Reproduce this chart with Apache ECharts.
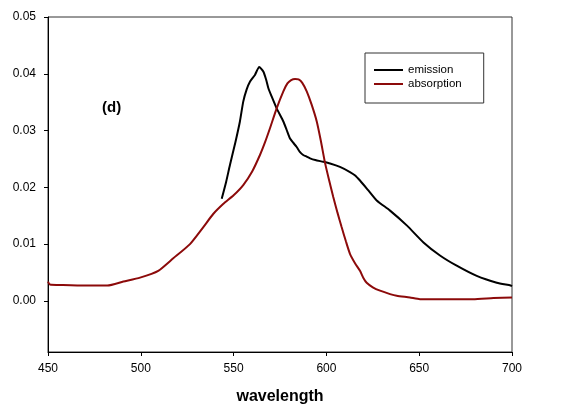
<!DOCTYPE html>
<html>
<head>
<meta charset="utf-8">
<script src="https://cdn.jsdelivr.net/npm/echarts@6/dist/echarts.min.js"></script>
<style>
  html, body { margin: 0; padding: 0; background: #fff; }
  #main { width: 579px; height: 415px; }
</style>
</head>
<body>
<div id="main"></div>
<script>
// wavelength (nm) and intensity
const emissionX = [543.6, 546, 548, 551, 553.4, 555.2, 557, 558.8, 561.5, 563.8, 566, 567.5, 568.7, 570.5, 573.2, 576.8, 578.6, 580.4, 582, 584, 585.8, 587.5, 589.4, 591.2, 594, 598.3, 602, 607.3, 612.7, 615.5, 618.1, 622.5, 627.1, 634.3, 643.3, 652.3, 661.2, 670.2, 681, 691.8, 699.3, 700]
const emissionY = [0.0180, 0.0210, 0.0239, 0.0280, 0.0316, 0.0351, 0.0372, 0.0386, 0.0398, 0.0412, 0.0404, 0.0390, 0.0375, 0.0360, 0.0339, 0.0316, 0.0301, 0.0286, 0.0279, 0.0271, 0.0262, 0.0257, 0.0254, 0.0251, 0.0248, 0.0245, 0.0242, 0.0236, 0.0227, 0.0221, 0.0212, 0.0195, 0.0177, 0.0159, 0.0133, 0.0103, 0.0080, 0.0062, 0.0044, 0.0032, 0.0027, 0.0026]

const absorptionX = [450, 451, 458, 470, 482, 490.6, 499.6, 509.4, 517.5, 526.5, 533.7, 539, 544.5, 550, 555.2, 560, 564.2, 567, 569.6, 573.2, 576.8, 579, 581, 583.1, 585, 587, 589.4, 592, 594.8, 597, 599.2, 601.5, 603.7, 606, 608.2, 610.5, 612.7, 615.5, 618.1, 620, 621.7, 625, 628.9, 634.3, 637.9, 645, 650.4, 665, 679, 690, 700]
const absorptionY = [0.0034, 0.0029, 0.0028, 0.0027, 0.0027, 0.0034, 0.0041, 0.0053, 0.0075, 0.0100, 0.0130, 0.0153, 0.0171, 0.0186, 0.0204, 0.0228, 0.0257, 0.0280, 0.0304, 0.0339, 0.0369, 0.0383, 0.0389, 0.0391, 0.0390, 0.0384, 0.0369, 0.0346, 0.0316, 0.0282, 0.0244, 0.0212, 0.0183, 0.0155, 0.0130, 0.0105, 0.0083, 0.0066, 0.0053, 0.0040, 0.0032, 0.0024, 0.0018, 0.0012, 0.0009, 0.0006, 0.0003, 0.0003, 0.0003, 0.0005, 0.0006]

const yTicks = [0, 0.01, 0.02, 0.03, 0.04, 0.05]
const seriesNames = ['emission', 'absorption']

const pairs = (xs, ys) => xs.map((x, i) => [x, ys[i]])

const myChart = echarts.init(document.getElementById('main'))
const option = {
  animation: false,
  textStyle: { fontFamily: 'Liberation Sans, Arial, sans-serif' },
  grid: {
    left: 48,
    right: 67,
    top: 17,
    bottom: 63,
    show: true,
    borderColor: '#333',
    borderWidth: 1
  },
  legend: {
    data: seriesNames,
    orient: 'vertical',
    left: 365,
    top: 53,
    padding: [11, 22, 13, 9],
    itemWidth: 29,
    itemHeight: 2,
    itemGap: 2,
    icon: 'rect',
    borderColor: '#333',
    borderWidth: 1,
    textStyle: { fontSize: 11.5, color: '#000' }
  },
  xAxis: {
    type: 'value',
    min: 450,
    max: 700,
    interval: 50,
    name: 'wavelength',
    nameLocation: 'middle',
    nameGap: 37,
    nameTextStyle: { fontSize: 16, fontWeight: 'bold', color: '#000' },
    axisLine: { onZero: false, lineStyle: { color: '#000' } },
    axisTick: { inside: false, length: 4, lineStyle: { color: '#000' } },
    axisLabel: { margin: 11, fontSize: 12, color: '#000' },
    splitLine: { show: false }
  },
  yAxis: {
    type: 'value',
    min: -0.009,
    max: 0.05,
    axisLine: { show: true, onZero: false, lineStyle: { color: '#000' } },
    axisTick: { show: true, length: 4, customValues: yTicks, lineStyle: { color: '#000' } },
    axisLabel: {
      margin: 12,
      fontSize: 12,
      color: '#000',
      customValues: yTicks,
      formatter: (v) => v.toFixed(2)
    },
    splitLine: { show: false }
  },
  graphic: [
    {
      type: 'text',
      left: 102,
      top: 100,
      style: { text: '(d)', font: 'bold 15px Liberation Sans, Arial', fill: '#000' }
    }
  ],
  series: [
    {
      name: 'emission',
      type: 'line',
      data: pairs(emissionX, emissionY),
      showSymbol: false,
      symbol: 'none',
      smooth: 0.2,
      lineStyle: { color: '#000', width: 2 },
      itemStyle: { color: '#000' }
    },
    {
      name: 'absorption',
      type: 'line',
      data: pairs(absorptionX, absorptionY),
      showSymbol: false,
      symbol: 'none',
      smooth: 0.2,
      lineStyle: { color: '#8c0a0a', width: 2 },
      itemStyle: { color: '#8c0a0a' }
    }
  ]
}
myChart.setOption(option)
</script>
</body>
</html>
